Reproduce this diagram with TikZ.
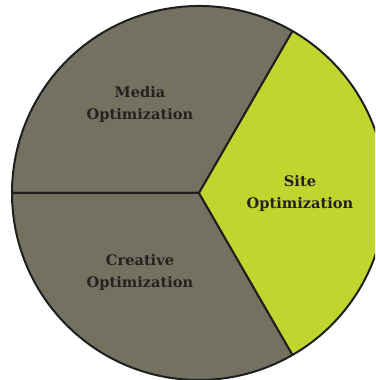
\documentclass[tikz,border=0pt]{standalone}
\usepackage{fontspec}
\setmainfont{DejaVu Serif}
\definecolor{sectorgray}{RGB}{115,114,96}
\definecolor{sitegreen}{RGB}{192,214,46}
\definecolor{labelink}{RGB}{36,34,32}
\tikzset{
    sector/.style={
        draw=black!88,
        line width=2pt,
        line join=round
    },
    segtext/.style={
        font=\bfseries\fontsize{14.6}{22}\selectfont,
        align=center,
        text=labelink
    }
}

\begin{document}
\begin{tikzpicture}[x=1pt, y=1pt]

    \useasboundingbox (0,0) rectangle (375,380);
    \clip (0,0) rectangle (375,380);

    \coordinate (hub) at (199,187);

    \filldraw[sector, fill=sectorgray] (hub) -- ++(60:187) arc[start angle=60, end angle=180, radius=187] -- cycle;
    \filldraw[sector, fill=sectorgray] (hub) -- ++(180:187) arc[start angle=180, end angle=300, radius=187] -- cycle;
    \filldraw[sector, fill=sitegreen] (hub) -- ++(-60:187) arc[start angle=-60, end angle=60, radius=187] -- cycle;

    \node[segtext] (media) at (140,276) {Media\\Optimization};
    \node[segtext] (creative) at (140,108) {Creative\\Optimization};
    \node[segtext] (site) at (300,187) {Site\\Optimization};

\end{tikzpicture}
\end{document}
